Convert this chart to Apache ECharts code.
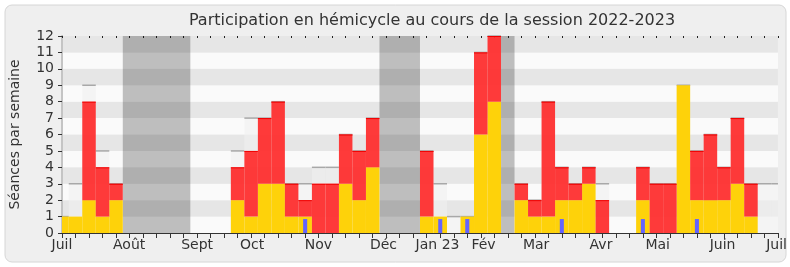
<!DOCTYPE html>
<html>
<head>
<meta charset="utf-8">
<script src="https://cdn.jsdelivr.net/npm/echarts@6/dist/echarts.min.js"></script>
<style>html,body{margin:0;padding:0;background:#fff;}#c{width:790px;height:267px;}</style>
</head>
<body>
<div id="c"></div>
<script>
// Weekly values, index 0 = week of 27 June 2022 ... index 53 = week of 3 July 2023
const yellowVals = [1,1,2,1,2,0,0,0,0,0,0,0,0,2,1,3,3,1,1,0,0,3,2,4,0,0,0,1,1,0,1,6,8,0,2,1,1,2,2,3,0,0,0,2,0,0,9,2,2,2,3,1,0,0];
const redVals    = [0,0,6,3,1,0,0,0,0,0,0,0,0,2,4,4,5,2,1,3,3,3,3,3,0,0,0,4,0,0,0,5,4,0,1,1,7,2,1,1,2,0,0,2,3,3,0,3,4,2,4,2,0,0];
const seanceVals = [1,3,9,5,3,0,0,0,0,0,0,0,0,5,7,7,8,3,3,4,4,6,5,7,0,0,0,5,3,1,1,11,12,0,3,2,8,4,3,4,3,0,0,4,3,3,9,5,6,4,7,3,3,3];
const questionVals=[0,0,0,0,0,0,0,0,0,0,0,0,0,0,0,0,0,0,1,0,0,0,0,0,0,0,0,0,1,0,1,0,0,0,0,0,0,1,0,0,0,0,0,1,0,0,0,1,0,0,0,0,0,0];
// Vacation periods (in week index units)
const vacStart = [4.5, 23.5, 32.5];
const vacEnd   = [9.5, 26.5, 33.5];
// Month tick labels and their positions (week index units)
const monthLabels = ['Juil','Août','Sept','Oct','Nov','Déc','Jan 23','Fév','Mar','Avr','Mai','Juin','Juil'];
const monthPos    = [0, 4.97, 10.0, 14.07, 18.98, 23.8, 27.8, 31.2, 35.1, 39.9, 44.1, 48.9, 52.9];
const yTicks = [0,1,2,3,4,5,6,7,8,9,10,11,12];

const FONT = 'DejaVu Sans';
const chart = echarts.init(document.getElementById('c'), null, {renderer:'canvas'});

function clipR(params, r){
  const cs = params.coordSys;
  return echarts.graphic.clipRectByRect(r, {x:cs.x, y:cs.y, width:cs.width, height:cs.height});
}
function rectFor(api, j, v0, v1, halfW){
  const p0 = api.coord([j - halfW, v1]);
  const p1 = api.coord([j + halfW, v0]);
  return {x:p0[0], y:p0[1], width:p1[0]-p0[0], height:p1[1]-p0[1]};
}

const idx = yellowVals.map((_, i) => i);

const option = {
  backgroundColor: '#ffffff',
  animation: false,
  graphic: [{
    type:'rect', z:-10, silent:true,
    shape:{x:5, y:5, width:781, height:257, r:7},
    style:{fill:'#efefef', stroke:'#d6d6d6', lineWidth:1}
  }],
  title: {
    text: 'Participation en hémicycle au cours de la session 2022-2023',
    left: 427, top: 8, textAlign: 'center',
    textStyle: {fontFamily: FONT, fontSize: 16, fontWeight: 'normal', color: '#333'}
  },
  grid: {left: 61, right: 10, top: 36, bottom: 34, show: false},
  xAxis: [{
    type: 'value', min: 0, max: 53, interval: 1, position: 'bottom',
    axisLine: {show: true, lineStyle: {color: '#333', width: 1}},
    axisTick: {show: true, length: 5, lineStyle: {color: '#333'}},
    axisLabel: {show: false},
    splitLine: {show: false}
  }, {
    type: 'value', min: 0, max: 53, position: 'bottom',
    axisLine: {show: false}, axisTick: {show: false}, splitLine: {show: false},
    axisLabel: {
      show: true, customValues: monthPos, margin: 5,
      fontFamily: FONT, fontSize: 14, color: '#333',
      formatter: v => { const k = monthPos.indexOf(v); return k >= 0 ? monthLabels[k] : ''; }
    }
  }, {
    type: 'value', min: 0, max: 53, interval: 1, position: 'top',
    axisLine: {show: false},
    axisTick: {show: true, length: 2, inside: true, lineStyle: {color: '#222'}},
    axisLabel: {show: false}, splitLine: {show: false}
  }],
  yAxis: [{
    type: 'value', min: 0, max: 12, interval: 1,
    name: 'Séances par semaine', nameLocation: 'middle', nameGap: 40,
    nameTextStyle: {fontFamily: FONT, fontSize: 14, color: '#333'},
    axisLine: {show: true, lineStyle: {color: '#333'}},
    axisTick: {show: true, length: 4, lineStyle: {color: '#333'}},
    axisLabel: {fontFamily: FONT, fontSize: 14, color: '#333', margin: 8,
      customValues: yTicks},
    splitLine: {show: false},
    splitArea: {show: true, areaStyle: {color: ['#fafafa', '#e6e6e6']}}
  }, {
    type: 'value', min: 0, max: 12, position: 'right',
    axisLine: {show: true, lineStyle: {color: '#c4c4c4', width: 2}},
    axisTick: {show: false}, axisLabel: {show: false}, splitLine: {show: false}
  }],
  series: [
    { // vacations
      type: 'custom', xAxisIndex: 0, yAxisIndex: 0, z: 1,
      data: vacStart.map((s, i) => [s, vacEnd[i]]),
      renderItem: (params, api) => {
        const p0 = api.coord([api.value(0), 12]);
        const p1 = api.coord([api.value(1), 0]);
        return {type:'rect', shape: clipR(params, {x:p0[0], y:p0[1], width:p1[0]-p0[0], height:p1[1]-p0[1]}),
          style: {fill: 'rgba(0,0,0,0.24)'}};
      }
    },
    { // séances (max)
      type: 'custom', xAxisIndex: 0, yAxisIndex: 0, z: 2,
      data: idx.map(i => [i, seanceVals[i]]),
      renderItem: (params, api) => {
        const j = api.value(0), v = api.value(1);
        if (!v) return null;
        const r = clipR(params, rectFor(api, j, 0, v, 0.5));
        if (!r) return null;
        return {type:'group', children:[
          {type:'rect', shape: r, style:{fill:'rgba(240,240,240,0.6)'}},
          {type:'line', shape:{x1:r.x, y1:r.y, x2:r.x+r.width, y2:r.y}, style:{stroke:'#a8a8a8', lineWidth:1.5}}
        ]};
      }
    },
    { // yellow
      type: 'custom', xAxisIndex: 0, yAxisIndex: 0, z: 3,
      data: idx.map(i => [i, yellowVals[i]]),
      renderItem: (params, api) => {
        const j = api.value(0), v = api.value(1);
        if (!v) return null;
        const r = clipR(params, rectFor(api, j, 0, v, 0.5));
        if (!r) return null;
        return {type:'rect', shape: r, style:{fill:'#fed20a'}};
      }
    },
    { // red stacked on yellow
      type: 'custom', xAxisIndex: 0, yAxisIndex: 0, z: 4,
      data: idx.map(i => [i, yellowVals[i], redVals[i]]),
      renderItem: (params, api) => {
        const j = api.value(0), y0 = api.value(1), v = api.value(2);
        if (!v) return null;
        const r = clipR(params, rectFor(api, j, y0, y0 + v, 0.5));
        if (!r) return null;
        return {type:'group', children:[
          {type:'rect', shape: r, style:{fill:'rgba(255,30,30,0.87)'}},
          {type:'line', shape:{x1:r.x, y1:r.y+0.5, x2:r.x+r.width, y2:r.y+0.5}, style:{stroke:'#f00000', lineWidth:1}}
        ]};
      }
    },
    { // questions
      type: 'custom', xAxisIndex: 0, yAxisIndex: 0, z: 5,
      data: idx.map(i => [i, questionVals[i]]),
      renderItem: (params, api) => {
        const j = api.value(0), v = api.value(1);
        if (!v) return null;
        const r = clipR(params, rectFor(api, j, 0, v * 0.85, 0.15));
        if (!r) return null;
        return {type:'rect', shape: r, style:{fill:'#6464ff'}};
      }
    }
  ]
};
chart.setOption(option);
</script>
</body>
</html>
